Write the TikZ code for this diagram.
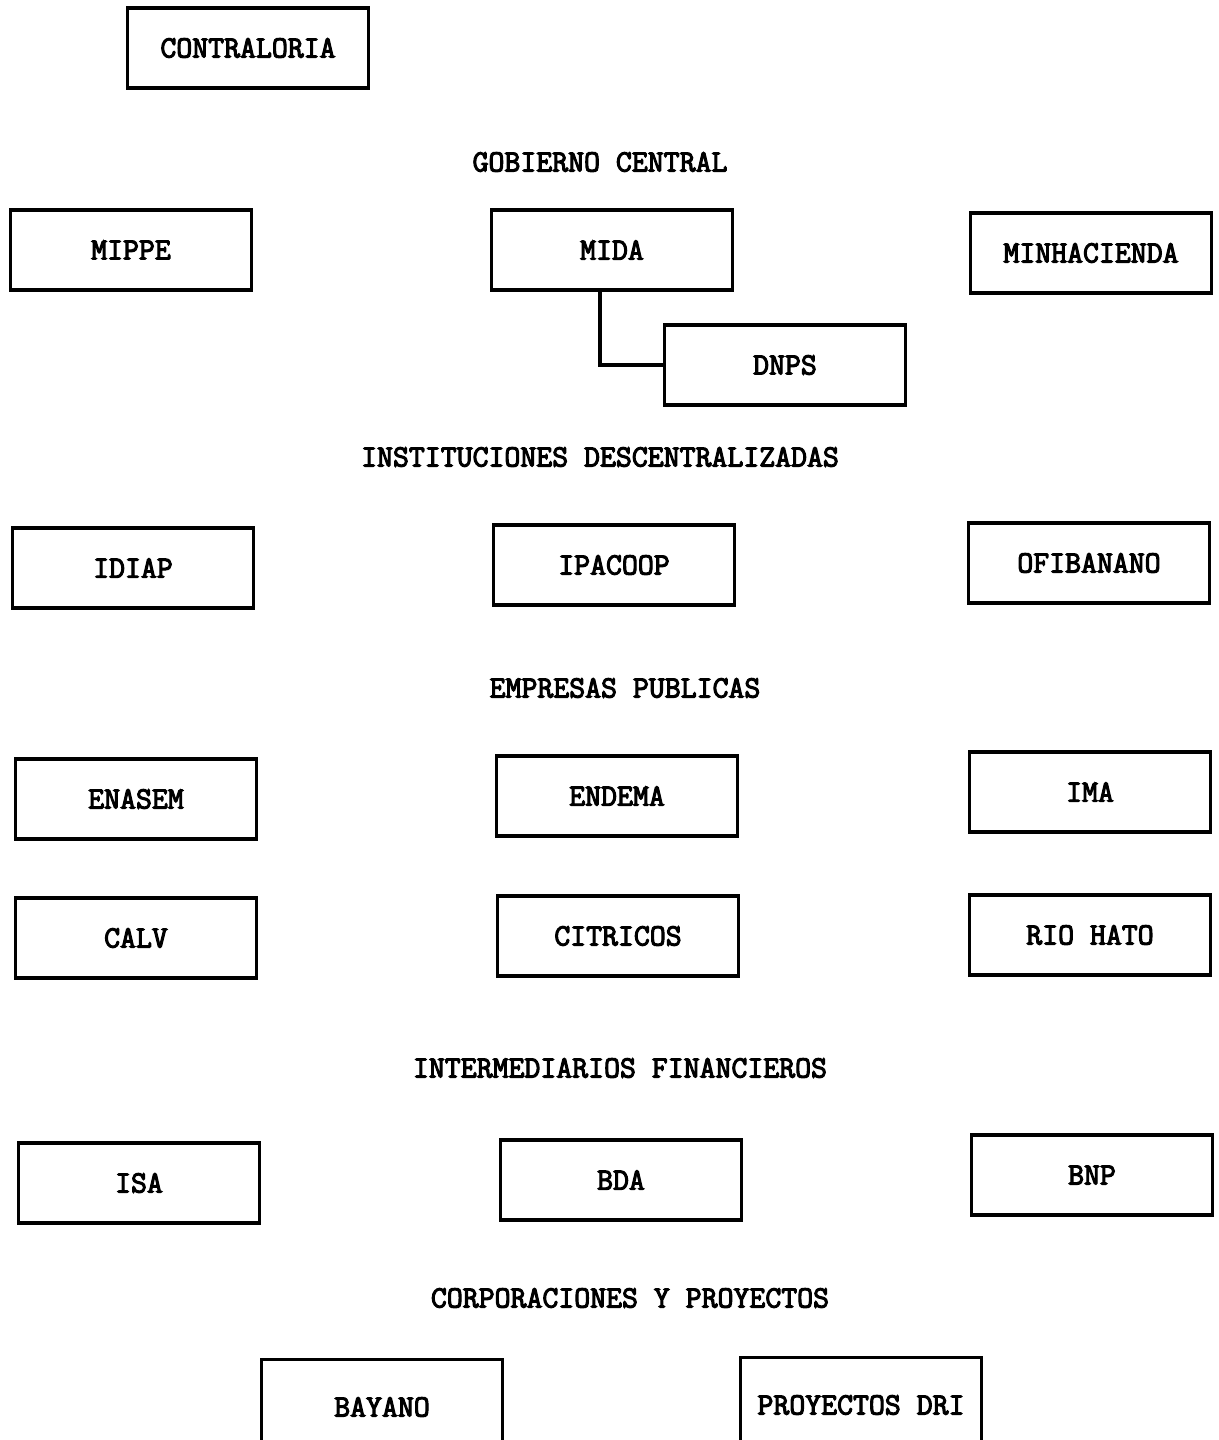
\documentclass[tikz,border=0pt]{standalone}
\usepackage{fontspec}
\setmonofont[AutoFakeBold=3.5]{Latin Modern Mono}
\begin{document}
\begin{tikzpicture}[x=0.02cm, y=-0.02cm,
  every node/.style={font=\fontsize{17.6pt}{20pt}\selectfont\ttfamily\bfseries},
  org/.style={draw, line width=2pt, minimum width=4.82cm, minimum height=1.6cm, inner sep=0pt},
  orgcut/.style={org, minimum height=1.9cm},
  grp/.style={inner sep=0pt}]
\clip (0,0) rectangle (1218,1440);
% organismos
\node[org] (contra) at (248,48) {CONTRALORIA};
\node[grp] (gob) at (600,162) {GOBIERNO CENTRAL};
\node[org] (mippe) at (131,250) {MIPPE};
\node[org] (mida) at (612,250) {MIDA};
\node[org] (minha) at (1091,253) {MINHACIENDA};
\node[org] (dnps) at (785,365) {DNPS};
\node[grp] (inst) at (600,457) {INSTITUCIONES DESCENTRALIZADAS};
\node[org] (idiap) at (133,568) {IDIAP};
\node[org] (ipac) at (614,565) {IPACOOP};
\node[org] (ofib) at (1089,563) {OFIBANANO};
\node[grp] (emp) at (625,688) {EMPRESAS PUBLICAS};
\node[org] (enasem) at (136,799) {ENASEM};
\node[org] (endema) at (617,796) {ENDEMA};
\node[org] (ima) at (1090,792) {IMA};
\node[org] (calv) at (136,938) {CALV};
\node[org] (citr) at (618,936) {CITRICOS};
\node[org] (rio) at (1090,935) {RIO HATO};
\node[grp] (inter) at (620,1068) {INTERMEDIARIOS FINANCIEROS};
\node[org] (isa) at (139,1183) {ISA};
\node[org] (bda) at (621,1180) {BDA};
\node[org] (bnp) at (1092,1175) {BNP};
\node[grp] (corp) at (630,1298) {CORPORACIONES Y PROYECTOS};
\node[orgcut] (bayano) at (382,1407) {BAYANO};
\node[orgcut] (dri) at (861,1405) {PROYECTOS DRI};
% dependencia
\draw[line width=2pt] (mida.south -| 600,0) |- (dnps.west);
\end{tikzpicture}
\end{document}
